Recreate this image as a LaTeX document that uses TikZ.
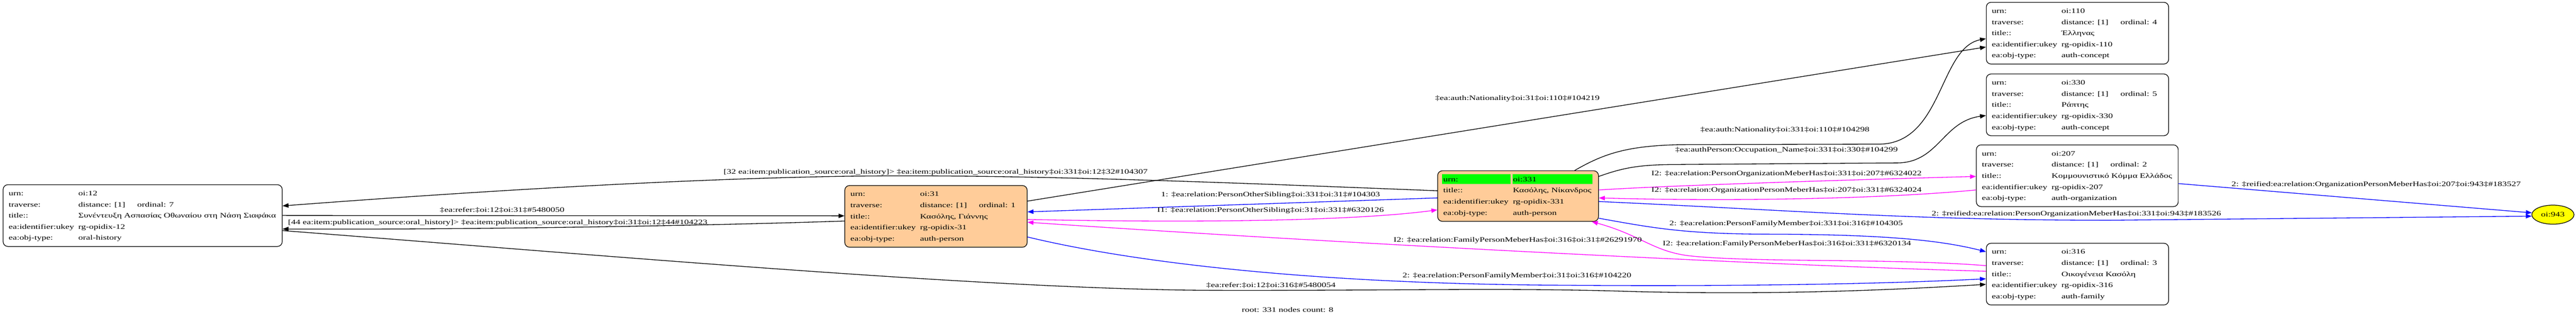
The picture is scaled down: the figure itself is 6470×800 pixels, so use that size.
\documentclass[tikz,border=0pt]{standalone}
\usepackage{fontspec}
\setmainfont{Liberation Serif}[FakeStretch=1.37]
\usepackage{tikz}
\usetikzlibrary{shapes, arrows.meta, positioning}

\definecolor{peach}{RGB}{255,204,153}
\definecolor{hlgreen}{RGB}{0,255,0}
\definecolor{relblue}{RGB}{0,0,255}
\definecolor{relpink}{RGB}{255,0,255}
\definecolor{rootyellow}{RGB}{255,255,0}

\newcommand{\recfont}{\fontsize{17}{20}\selectfont}
\newlength{\valwd}
\newcommand{\recbody}[2]{\setlength{\valwd}{#1}\renewcommand{\arraystretch}{1.4}%
  \begin{tabular}{@{}l@{}l@{}}#2\end{tabular}}
\newcommand{\fld}[2]{\makebox[175pt][l]{#1}&\makebox[\valwd][l]{#2}\\}
\newcommand{\hlfld}[2]{\setlength{\fboxsep}{0pt}\hspace{-3pt}\colorbox{hlgreen}{\rule[-6pt]{0pt}{25pt}\makebox[172pt][l]{\hspace{3pt}#1}}&%
  \setlength{\fboxsep}{0pt}\hspace{-1pt}\colorbox{hlgreen}{\rule[-6pt]{0pt}{25pt}\makebox[\valwd][l]{\hspace{1pt}#2}}\\}
\newcommand{\trv}[1]{\makebox[148pt][l]{distance: [1]}ordinal: #1}

\begin{document}
\begin{tikzpicture}[x=1pt, y=-1pt, font=\recfont,
    recbox/.style={draw, line width=1.6pt, rounded corners=12pt, inner xsep=14pt, inner ysep=7.5pt, anchor=north west},
    seedbox/.style={recbox, fill=peach},
    lbl/.style={inner sep=0pt},
    rel/.style={line width=1.7pt, -{Triangle[length=15pt, width=11pt]}}]
    \useasboundingbox (0,0) rectangle (6470,800);

    \node (o12) [recbox] at (7,463) {\recbody{498pt}{%
        \fld{urn:}{oi:12}
        \fld{traverse:}{\trv{7}}
        \fld{title::}{Συνέντευξη Ασπασίας Οθωναίου στη Νάση Σιαφάκα}
        \fld{ea:identifier:ukey}{rg-opidix-12}
        \fld{ea:obj-type:}{oral-history}}};
    \node (o31) [seedbox] at (2121,465) {\recbody{255pt}{%
        \fld{urn:}{oi:31}
        \fld{traverse:}{\trv{1}}
        \fld{title::}{Κασόλης, Γιάννης}
        \fld{ea:identifier:ukey}{rg-opidix-31}
        \fld{ea:obj-type:}{auth-person}}};
    \node (o331) [seedbox] at (3610,428) {\recbody{201pt}{%
        \hlfld{urn:}{oi:331}
        \fld{title::}{Κασόλης, Νίκανδρος}
        \fld{ea:identifier:ukey}{rg-opidix-331}
        \fld{ea:obj-type:}{auth-person}}};
    \node (o110) [recbox] at (4988,5) {\recbody{255pt}{%
        \fld{urn:}{oi:110}
        \fld{traverse:}{\trv{4}}
        \fld{title::}{Έλληνας}
        \fld{ea:identifier:ukey}{rg-opidix-110}
        \fld{ea:obj-type:}{auth-concept}}};
    \node (o330) [recbox] at (4988,185) {\recbody{255pt}{%
        \fld{urn:}{oi:330}
        \fld{traverse:}{\trv{5}}
        \fld{title::}{Ράπτης}
        \fld{ea:identifier:ukey}{rg-opidix-330}
        \fld{ea:obj-type:}{auth-concept}}};
    \node (o207) [recbox] at (4963,363) {\recbody{304pt}{%
        \fld{urn:}{oi:207}
        \fld{traverse:}{\trv{2}}
        \fld{title::}{Κομμουνιστικό Κόμμα Ελλάδος}
        \fld{ea:identifier:ukey}{rg-opidix-207}
        \fld{ea:obj-type:}{auth-organization}}};
    \node (o316) [recbox] at (4988,610) {\recbody{255pt}{%
        \fld{urn:}{oi:316}
        \fld{traverse:}{\trv{3}}
        \fld{title::}{Οικογένεια Κασόλη}
        \fld{ea:identifier:ukey}{rg-opidix-316}
        \fld{ea:obj-type:}{auth-family}}};
    \node (o943) [ellipse, draw, line width=1.6pt, fill=rootyellow, minimum width=106pt, minimum height=48pt, inner sep=0pt] at (6412,539) {oi:943};
    \node (root) at (3234,778) {root: 331 nodes count: 8};

    \draw[rel] (o12.east |- 0,541) -- (o31.west |- 0,542);
    \draw[rel] (o31.west |- 0,555) .. controls (1800,566) and (1200,577) .. (o12.east |- 0,575);
    \draw[rel] (o331.west |- 0,479) .. controls (3000,455) and (2500,436) .. (2100,443)
        .. controls (1600,452) and (1000,495) .. (o12.east |- 0,517);
    \draw[rel] (o31.east |- 0,505) -- (o110.west |- 0,118);
    \draw[rel] (o331.north -| 3955,0) .. controls (4030,385) and (4090,363) .. (4250,363) -- (4720,362)
        .. controls (4880,360) and (4870,120) .. (o110.west |- 0,97);
    \draw[rel] (o331.east |- 0,443) .. controls (4080,420) and (4120,413) .. (4220,413) -- (4770,409)
        .. controls (4870,405) and (4880,305) .. (o330.west |- 0,290);
    \draw[rel, relblue] (o331.west |- 0,497) -- (o31.east |- 0,532);
    \draw[rel, relpink] (o31.east |- 0,551) .. controls (3000,560) and (3400,555) .. (o331.west |- 0,527);
    \draw[rel, relpink] (o316.west |- 0,681) .. controls (4400,665) and (3300,607) .. (o31.east |- 0,558);
    \draw[rel, relpink] (o316.west |- 0,667) .. controls (4750,648) and (4400,660) .. (4240,642)
        .. controls (4150,630) and (4120,590) .. (o331.south -| 3998,0);
    \draw[rel, relblue] (o31.east |- 0,595) .. controls (2850,660) and (3300,712) .. (3900,716)
        .. controls (4400,720) and (4750,712) .. (o316.west |- 0,700);
    \draw[rel] (o12.east |- 0,579) .. controls (1500,640) and (2500,728) .. (3050,729)
        .. controls (3500,730) and (3800,722) .. (4100,732)
        .. controls (4500,742) and (4800,725) .. (o316.west |- 0,714);
    \draw[rel, relpink] (o331.east |- 0,477) .. controls (4200,465) and (4700,450) .. (o207.west |- 0,443);
    \draw[rel, relpink] (o207.west |- 0,477) .. controls (4700,502) and (4300,505) .. (o331.east |- 0,497);
    \draw[rel, relblue] (o331.east |- 0,506) .. controls (4500,528) and (4800,553) .. (5300,553) -- (o943.184);
    \draw[rel, relblue] (o331.east |- 0,548) .. controls (4150,572) and (4230,588) .. (4450,588)
        .. controls (4750,589) and (4880,605) .. (o316.west |- 0,632);
    \draw[rel, relblue] (o207.east |- 0,461) -- (o943.175);

    \node (t1) [lbl] at (1261,528) {‡ea:refer:‡oi:12‡oi:31‡\#5480050};
    \node (t2) [lbl] at (1250,559) {[44 ea:item:publication\_source:oral\_history]> ‡ea:item:publication\_source:oral\_history‡oi:31‡oi:12‡44\#104223};
    \node (t3) [lbl] at (2350,433) {[32 ea:item:publication\_source:oral\_history]> ‡ea:item:publication\_source:oral\_history‡oi:331‡oi:12‡32\#104307};
    \node (t4) [lbl] at (3811,248) {‡ea:auth:Nationality‡oi:31‡oi:110‡\#104219};
    \node (t5) [lbl] at (4483,327) {‡ea:auth:Nationality‡oi:331‡oi:110‡\#104298};
    \node (t6) [lbl] at (4487,377) {‡ea:authPerson:Occupation\_Name‡oi:331‡oi:330‡\#104299};
    \node (t7) [lbl] at (3191,490) {1: ‡ea:relation:PersonOtherSibling‡oi:331‡oi:31‡\#104303};
    \node (t8) [lbl] at (3191,528) {I1: ‡ea:relation:PersonOtherSibling‡oi:31‡oi:331‡\#6320126};
    \node (t9) [lbl] at (3812,603) {I2: ‡ea:relation:FamilyPersonMeberHas‡oi:316‡oi:31‡\#26291970};
    \node (t10) [lbl] at (4488,612) {I2: ‡ea:relation:FamilyPersonMeberHas‡oi:316‡oi:331‡\#6320134};
    \node (t11) [lbl] at (3810,693) {2: ‡ea:relation:PersonFamilyMember‡oi:31‡oi:316‡\#104220};
    \node (t12) [lbl] at (3192,717) {‡ea:refer:‡oi:12‡oi:316‡\#5480054};
    \node (t13) [lbl] at (4487,436) {I2: ‡ea:relation:PersonOrganizationMeberHas‡oi:331‡oi:207‡\#6324022};
    \node (t14) [lbl] at (4487,478) {I2: ‡ea:relation:OrganizationPersonMeberHas‡oi:207‡oi:331‡\#6324024};
    \node (t15) [lbl] at (5215,538) {2: ‡reified:ea:relation:PersonOrganizationMeberHas‡oi:331‡oi:943‡\#183526};
    \node (t16) [lbl] at (4486,562) {2: ‡ea:relation:PersonFamilyMember‡oi:331‡oi:316‡\#104305};
    \node (t17) [lbl] at (5968,463) {2: ‡reified:ea:relation:OrganizationPersonMeberHas‡oi:207‡oi:943‡\#183527};
\end{tikzpicture}
\end{document}
